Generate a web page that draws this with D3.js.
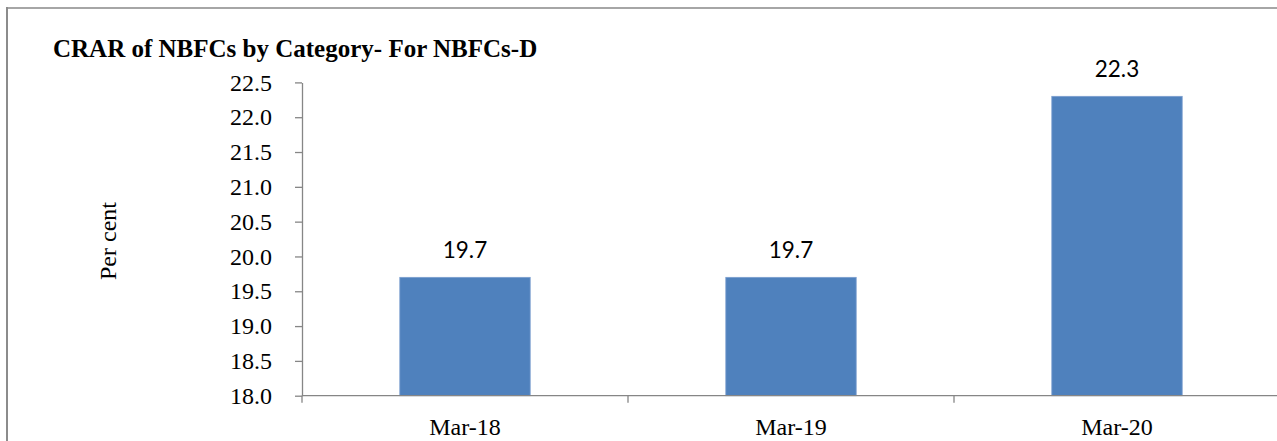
<!DOCTYPE html>
<html>
<head>
<meta charset="utf-8">
<script src="https://cdn.jsdelivr.net/npm/d3@7"></script>
<style>
  body { margin: 0; background: #fff; }
  svg { display: block; }
</style>
</head>
<body>
<div id="chart"></div>
<script>
// chart data
let categories = ["Mar-18", "Mar-19", "Mar-20"];
let values = [19.7, 19.7, 22.3];
let yTicks = [18.0, 18.5, 19.0, 19.5, 20.0, 20.5, 21.0, 21.5, 22.0, 22.5];
let chartTitle = "CRAR of NBFCs by Category- For NBFCs-D";
let yTitle = "Per cent";

let width = 1277;
let height = 441;
let margin = ({top: 82.4, right: -3, bottom: 45.3, left: 302});

let axisColor = "#868686";
let barColor = "#4f81bd";

let svg = d3.select("#chart")
    .append("svg")
    .attr("width", width)
    .attr("height", height);

// frame lines (top and left of the document box)
svg.append("line")
    .attr("x1", 6).attr("x2", width)
    .attr("y1", 8).attr("y2", 8)
    .attr("stroke", "#a6a6a6")
    .attr("stroke-width", 2);
svg.append("line")
    .attr("x1", 7).attr("x2", 7)
    .attr("y1", 7).attr("y2", height)
    .attr("stroke", "#8c8c8c")
    .attr("stroke-width", 2);

// scales
let y = d3.scaleLinear()
    .domain([18, 22.5])
    .range([height - margin.bottom, margin.top]);

let xSlot = d3.scaleBand()
    .domain(categories)
    .range([margin.left, width - margin.right])
    .padding(0);

let x = d3.scaleBand()
    .domain(categories)
    .range([margin.left, width - margin.right])
    .paddingInner(0.6)
    .paddingOuter(0.3);

let baseY = y(18);

// title
svg.append("text")
    .attr("x", 53)
    .attr("y", 57)
    .attr("font-family", "'Liberation Serif', 'Times New Roman', serif")
    .attr("font-weight", "bold")
    .attr("font-size", "25px")
    .attr("fill", "#000")
    .text(chartTitle);

// y axis title
svg.append("text")
    .attr("transform", "translate(116," + 241 + ") rotate(-90)")
    .attr("text-anchor", "middle")
    .attr("font-family", "'Liberation Serif', 'Times New Roman', serif")
    .attr("font-size", "24px")
    .attr("fill", "#000")
    .text(yTitle);

// bars
svg.selectAll(".bar")
    .data(values)
    .enter()
    .append("rect")
    .attr("class", "bar")
    .attr("x", function(d, i) { return x(categories[i]); })
    .attr("y", function(d) { return y(d); })
    .attr("width", x.bandwidth())
    .attr("height", function(d) { return baseY - y(d); })
    .attr("fill", barColor)
    .attr("stroke", "#7c9fcf")
    .attr("stroke-width", 0.8);

// value labels
svg.selectAll(".val")
    .data(values)
    .enter()
    .append("text")
    .attr("class", "val")
    .attr("x", function(d, i) { return x(categories[i]) + x.bandwidth() / 2; })
    .attr("y", function(d) { return y(d) - 19; })
    .attr("text-anchor", "middle")
    .attr("font-family", "Lato, 'Open Sans', sans-serif")
    .attr("font-size", "22.5px")
    .attr("fill", "#000")
    .text(function(d) { return d3.format(".1f")(d); });

// y axis
let yAxis = d3.axisLeft(y)
    .tickValues(yTicks)
    .tickFormat(d3.format(".1f"))
    .tickSize(7)
    .tickPadding(23)
    .tickSizeOuter(0);

let gy = svg.append("g")
    .attr("transform", "translate(" + margin.left + ",0)")
    .call(yAxis);

gy.select(".domain").attr("stroke", axisColor).attr("stroke-width", 1.3);
gy.selectAll(".tick line").attr("stroke", axisColor).attr("stroke-width", 1.3);
gy.selectAll(".tick text")
    .attr("font-family", "'Liberation Serif', 'Times New Roman', serif")
    .attr("font-size", "24px")
    .attr("fill", "#000");

// x axis: baseline, slot boundary ticks and labels
let gx = svg.append("g");

gx.append("line")
    .attr("x1", margin.left).attr("x2", width)
    .attr("y1", baseY).attr("y2", baseY)
    .attr("stroke", axisColor)
    .attr("stroke-width", 1.3);

let edges = categories.map(function(c) { return xSlot(c); });
edges.push(xSlot(categories[categories.length - 1]) + xSlot.bandwidth());

gx.selectAll(".xtick")
    .data(edges)
    .enter()
    .append("line")
    .attr("class", "xtick")
    .attr("x1", function(d) { return d; })
    .attr("x2", function(d) { return d; })
    .attr("y1", baseY)
    .attr("y2", baseY + 7)
    .attr("stroke", axisColor)
    .attr("stroke-width", 1.3);

gx.selectAll(".xlab")
    .data(categories)
    .enter()
    .append("text")
    .attr("class", "xlab")
    .attr("x", function(d) { return xSlot(d) + xSlot.bandwidth() / 2; })
    .attr("y", baseY + 39)
    .attr("text-anchor", "middle")
    .attr("font-family", "'Liberation Serif', 'Times New Roman', serif")
    .attr("font-size", "24px")
    .attr("fill", "#000")
    .text(function(d) { return d; });
</script>
</body>
</html>
